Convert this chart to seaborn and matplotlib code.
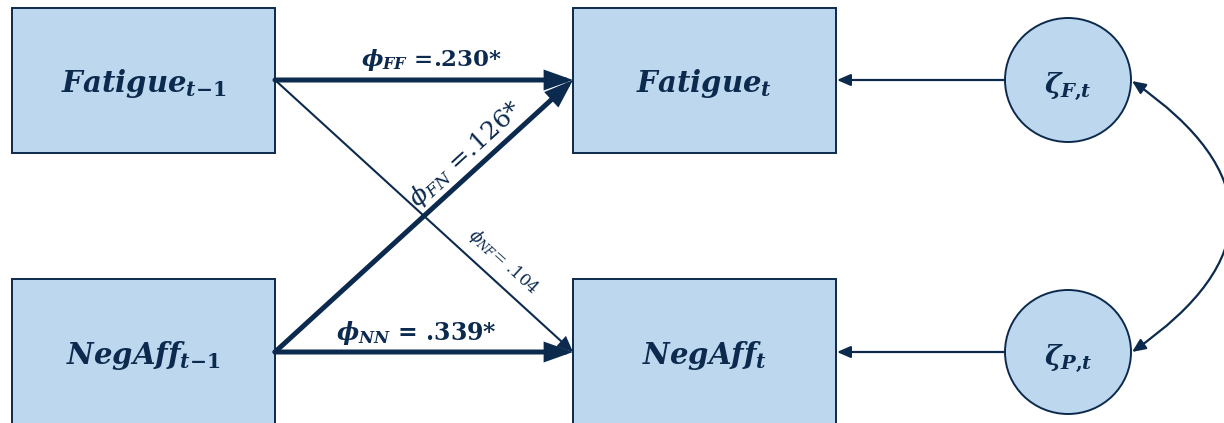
import matplotlib
matplotlib.use("Agg")
import matplotlib.pyplot as plt
from matplotlib.patches import Rectangle, Ellipse
import seaborn as sns

# Variables in the cross-lagged panel model
lagged_vars = [r"Fatigue_{t{-}1}", r"NegAff_{t{-}1}"]
current_vars = [r"Fatigue_t", r"NegAff_t"]
residuals = [r"\zeta_{F{,}t}", r"\zeta_{P{,}t}"]

# Autoregressive / cross-lagged coefficients
paths = ["FF", "FN", "NF", "NN"]
coefs = [0.230, 0.126, 0.104, 0.339]
significant = [True, True, False, True]

sns.set_theme(style="white")
plt.rcParams["mathtext.fontset"] = "custom"
plt.rcParams["mathtext.it"] = "DejaVu Serif:italic:bold"
plt.rcParams["mathtext.rm"] = "DejaVu Serif:bold"
plt.rcParams["mathtext.bf"] = "DejaVu Serif:bold"
plt.rcParams["mathtext.cal"] = "DejaVu Serif:italic"
plt.rcParams["mathtext.sf"] = "DejaVu Serif:italic"

NAVY = "#0c2a4e"
FILL = "#bdd7ee"
SERIF = "DejaVu Serif"

fig = plt.figure(figsize=(12.24, 4.23), dpi=100)
ax = fig.add_axes([0, 0, 1, 1])
ax.set_xlim(0, 1224)
ax.set_ylim(423, 0)
ax.axis("off")

# node boxes
box_w, box_h = 263, 145
left_x, right_x = 12, 573
row_y = [8, 279]
row_mid = [80, 352]

for i in range(2):
    for x0, names in ((left_x, lagged_vars), (right_x, current_vars)):
        ax.add_patch(Rectangle((x0, row_y[i]), box_w, box_h + (10 if i else 0),
                               facecolor=FILL, edgecolor=NAVY, lw=1.4, zorder=2))
        ax.text(x0 + box_w / 2, row_mid[i] + 3, f"${names[i]}$", fontsize=21,
                color=NAVY, ha="center", va="center", zorder=5)

# residual circles
cx = 1068
for i in range(2):
    ax.add_patch(Ellipse((cx, row_mid[i]), 126, 124, facecolor=FILL,
                         edgecolor=NAVY, lw=1.4, zorder=2))
    ax.text(cx, row_mid[i] + 6, f"${residuals[i]}$", fontsize=20, color=NAVY,
            ha="center", va="center", zorder=5)
    ax.annotate("", xy=(right_x + box_w + 1, row_mid[i]), xytext=(cx - 63, row_mid[i]),
                arrowprops=dict(arrowstyle="-|>,head_length=0.8,head_width=0.35",
                                lw=1.6, color=NAVY, shrinkA=0, shrinkB=0,
                                mutation_scale=10), zorder=3)

# residual covariance
ax.annotate("", xy=(cx + 64, row_mid[0] + 1), xytext=(cx + 64, row_mid[1]),
            arrowprops=dict(arrowstyle="<|-|>,head_length=0.8,head_width=0.35",
                            lw=1.6, color=NAVY, shrinkA=0, shrinkB=0,
                            mutation_scale=10,
                            connectionstyle="arc3,rad=0.72"), zorder=3)


def coef_text(value, sig):
    return f"{value:.3f}".lstrip("0") + ("*" if sig else "")


src_dst = {
    "FF": ((left_x + box_w, row_mid[0]), (right_x, row_mid[0])),
    "FN": ((left_x + box_w, row_mid[1]), (right_x, row_mid[0])),
    "NF": ((left_x + box_w, row_mid[0]), (right_x, row_mid[1])),
    "NN": ((left_x + box_w, row_mid[1]), (right_x, row_mid[1])),
}

for p, c, s in zip(paths, coefs, significant):
    (x0, y0), (x1, y1) = src_dst[p]
    if s:
        style = "-|>,head_length=1.4,head_width=0.5"
        lw = 3.6
    else:
        style = "-|>,head_length=0.9,head_width=0.4"
        lw = 1.5
    ax.annotate("", xy=(x1, y1), xytext=(x0, y0),
                arrowprops=dict(arrowstyle=style, lw=lw, color=NAVY,
                                shrinkA=0, shrinkB=0, mutation_scale=10,
                                joinstyle="miter"),
                zorder=4)

val = {p: coef_text(c, s) for p, c, s in zip(paths, coefs, significant)}

ax.text(431, 60, r"$\phi_{FF}$ =" + val["FF"], fontsize=16.5, color=NAVY,
        family=SERIF, weight="bold", ha="center", va="center", zorder=5)
ax.text(416, 333, r"$\phi_{NN}$ = " + val["NN"], fontsize=17, color=NAVY,
        family=SERIF, weight="bold", ha="center", va="center", zorder=5)
ax.text(470, 159, r"$\mathsf{\phi}_{\mathcal{FN}}$ =" + val["FN"], fontsize=18,
        color=NAVY, family=SERIF, weight="normal", ha="center", va="baseline",
        rotation=42.4, rotation_mode="anchor", zorder=5)
ax.text(503, 262, r"$\mathsf{\phi}_{\mathcal{NF}}$= " + val["NF"], fontsize=12,
        color=NAVY, family=SERIF, weight="normal", ha="center", va="center",
        rotation=-42.4, rotation_mode="anchor", zorder=5)

fig.savefig("out.png", dpi=100)
